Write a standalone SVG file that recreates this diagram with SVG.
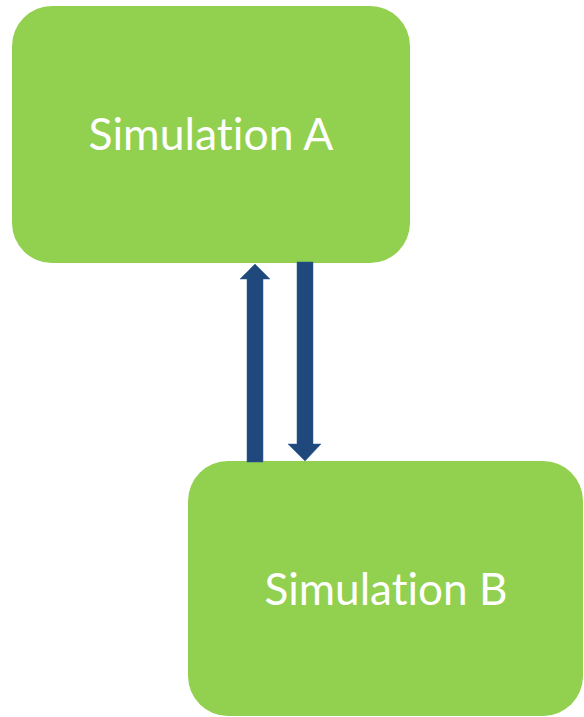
<svg xmlns="http://www.w3.org/2000/svg" width="584" height="717" viewBox="0 0 584 717">
  <style>
    .box { fill: #92D050; }
    .label { fill: #FFFFFF; font-family: Lato, "Open Sans", "Liberation Sans", sans-serif; font-size: 44px; text-anchor: middle; font-variant-ligatures: none; font-feature-settings: "liga" 0, "dlig" 0; }
    .arrow { fill: #1F497D; stroke: #2E5A8E; stroke-width: 0.5; }
  </style>
  <rect width="584" height="717" fill="#FFFFFF"/>
  <g id="simulation-a">
    <rect class="box" x="12" y="6" width="398" height="257" rx="40" ry="40"/>
    <text class="label" x="211" y="150" textLength="245" lengthAdjust="spacingAndGlyphs">Simulation A</text>
  </g>
  <g id="simulation-b">
    <rect class="box" x="188" y="461" width="395" height="255" rx="40" ry="40"/>
    <text class="label" x="386" y="605" textLength="243" lengthAdjust="spacingAndGlyphs">Simulation B</text>
  </g>
  <g id="connectors">
    <!-- B to A -->
    <polygon class="arrow" points="255,264 270,279 263,279 263,462 247,462 247,279 240,279"/>
    <!-- A to B -->
    <polygon class="arrow" points="297,262 313,262 313,444 321,444 305,461 288,444 297,444"/>
  </g>
</svg>
